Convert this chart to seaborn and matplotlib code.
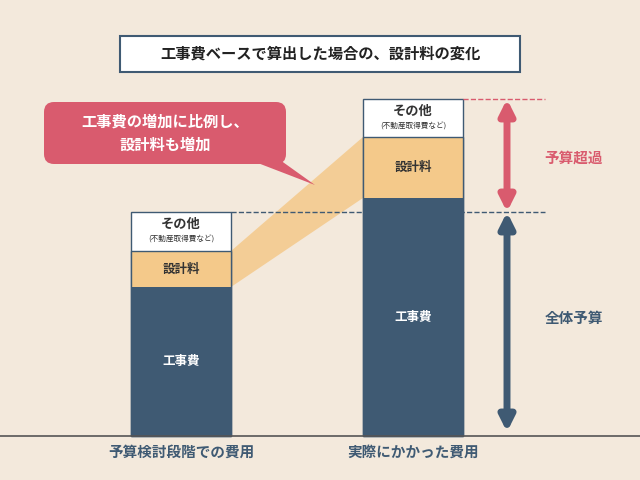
import matplotlib
matplotlib.use("Agg")
import matplotlib.pyplot as plt
import seaborn as sns
import pandas as pd
from matplotlib.patches import FancyBboxPatch, Polygon, FancyArrowPatch

plt.rcParams["font.family"] = "Noto Sans CJK JP"

# data (heights in pixel units above the baseline)
categories = ["予算検討段階での費用", "実際にかかった費用"]
centers = [181, 413]
construction = [149, 238]
design = [36, 61]
other = [39, 38]

BG = "#f3e9dc"
NAVY = "#3f5a73"
ORANGE = "#f4c98a"
RED = "#d95b6e"

fig = plt.figure(figsize=(6.4, 4.8), dpi=100, facecolor=BG)
ax = fig.add_axes([0, 0, 1, 1])
ax.set_facecolor(BG)

df = pd.DataFrame({"x": centers, "c": construction, "d": design, "o": other})
df["cd"] = df["c"] + df["d"]
df["cdo"] = df["cd"] + df["o"]
w = 100 / 232
sns.barplot(data=df, x="x", y="cdo", native_scale=True, width=w, color="white",
            edgecolor=NAVY, linewidth=1, saturation=1, ax=ax)
sns.barplot(data=df, x="x", y="cd", native_scale=True, width=w, color=ORANGE,
            edgecolor=NAVY, linewidth=1, saturation=1, ax=ax)
sns.barplot(data=df, x="x", y="c", native_scale=True, width=w, color=NAVY,
            linewidth=0, saturation=1, ax=ax)
ax.set_xlim(0, 640)
ax.set_ylim(-44, 436)  # y = 436 - pixel row
ax.axis("off")

# connector between design segments
ax.add_patch(Polygon([(centers[0] + 50, df.c[0]), (centers[0] + 50, df.cd[0]),
                      (centers[1] - 50, df.cd[1]), (centers[1] - 50, df.c[1])],
                     closed=True, color=ORANGE, alpha=0.85, lw=0, zorder=0))

for i in range(2):
    ax.text(centers[i], construction[i] / 2, "工事費", color="white", ha="center",
            va="center", fontsize=9, fontweight="bold")
    ax.text(centers[i], construction[i] + design[i] / 2, "設計料", color="#333333",
            ha="center", va="center", fontsize=9, fontweight="bold")
    top = df.cdo[i]
    ax.text(centers[i], top - 12, "その他", color="#333333", ha="center",
            va="center", fontsize=9.5, fontweight="bold")
    ax.text(centers[i], top - 28, "(不動産取得費など)", color="#333333", ha="center",
            va="center", fontsize=5.5)
    ax.text(centers[i], -16, categories[i], color=NAVY, ha="center", va="center",
            fontsize=10.5, fontweight="bold")

ax.axhline(0, color="#555555", lw=1.2)

# dashed guides and arrows
ax.plot([231, 545], [df.cdo[0]] * 2, ls="--", color=NAVY, lw=1)
ax.plot([463, 545], [df.cdo[1]] * 2, ls="--", color=RED, lw=1)
ax.add_patch(FancyArrowPatch((507, df.cdo[1]), (507, df.cdo[0]), arrowstyle="<|-|>",
                             mutation_scale=22, color=RED, lw=5, shrinkA=0, shrinkB=0))
ax.add_patch(FancyArrowPatch((507, df.cdo[0]), (507, 4), arrowstyle="<|-|>",
                             mutation_scale=22, color=NAVY, lw=5, shrinkA=0, shrinkB=0))
ax.text(574, 436 - 158, "予算超過", color=RED, ha="center", va="center",
        fontsize=10.5, fontweight="bold")
ax.text(574, 436 - 318, "全体予算", color=NAVY, ha="center", va="center",
        fontsize=10.5, fontweight="bold")

# title box
ax.add_patch(FancyBboxPatch((120, 436 - 72), 400, 36, boxstyle="square,pad=0",
                            fc="white", ec=NAVY, lw=1.5))
ax.text(320, 436 - 54, "工事費ベースで算出した場合の、設計料の変化", color="#222222",
        ha="center", va="center", fontsize=11, fontweight="bold")

# callout
ax.add_patch(Polygon([(250, 436 - 160), (280, 436 - 160), (315, 436 - 185)],
                     closed=True, color=RED, lw=0))
ax.add_patch(FancyBboxPatch((48, 436 - 160), 234, 54, boxstyle="round,pad=4,rounding_size=10",
                            fc=RED, ec="none"))
ax.text(165, 436 - 133, "工事費の増加に比例し、\n設計料も増加", color="white",
        ha="center", va="center", fontsize=11, fontweight="bold", linespacing=1.6)

fig.savefig("out.png", dpi=100, facecolor=BG)
